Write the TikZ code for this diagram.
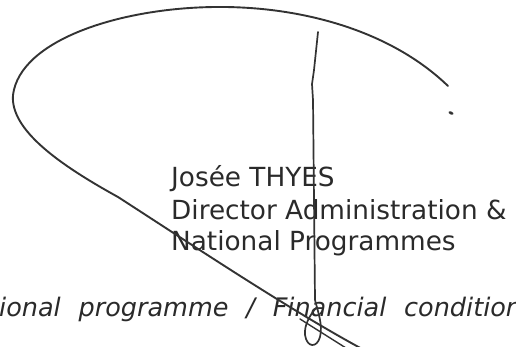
\documentclass[tikz,border=0pt]{standalone}
\usepackage{fontspec}
\setmainfont{DejaVu Sans}
\newfontfamily\footfont[WordSpace=2.2]{DejaVu Sans}
\definecolor{ink}{HTML}{2A2A2A}
\definecolor{pen}{HTML}{333333}
\tikzset{
  label/.style={inner sep=0pt, anchor=base west, text=ink, font=\fontsize{26.3}{31}\selectfont},
  ital/.style={inner sep=0pt, anchor=base west, text=ink, font=\footfont\fontsize{25.5}{31}\selectfont\itshape},
  sig/.style={draw=pen, line width=1.9pt, line cap=round, line join=round}
}
\begin{document}
\begin{tikzpicture}[x=1pt,y=-1pt]
\useasboundingbox (0,0) rectangle (516,347);
\begin{scope}
\clip (0,0) rectangle (516,347);
% texts
\node[label] (name) at (171,187) {Josée THYES};
\node[label] (title1) at (171,219) {Director Administration \&};
\node[label] (title2) at (171,250) {National Programmes};
\node[ital] (foot) at (-1,316) {ional programme / Financial conditions};
% signature: big loop and diagonal
\draw[sig] (448,86) .. controls (390,30) and (300,6) .. (215,7)
  .. controls (120,8) and (20,40) .. (13,95)
  .. controls (10,130) and (60,165) .. (118,197)
  .. controls (200,250) and (290,310) .. (364,350);
\draw[sig, line width=1.4pt] (300,319) -- (346,348);
% vertical stroke with bottom loop
\draw[sig, line width=1.7pt] (318,32) -- (314,70) -- (312,84) -- (313,100) -- (315,300)
  .. controls (318,312) and (323,325) .. (320,337)
  .. controls (317,348) and (307,348) .. (305,335)
  .. controls (304,325) and (310,315) .. (316,308);
% dot
\fill[pen, rotate around={-25:(451,113)}] (451,113) ellipse (2.6pt and 1.5pt);
\end{scope}
\end{tikzpicture}
\end{document}
